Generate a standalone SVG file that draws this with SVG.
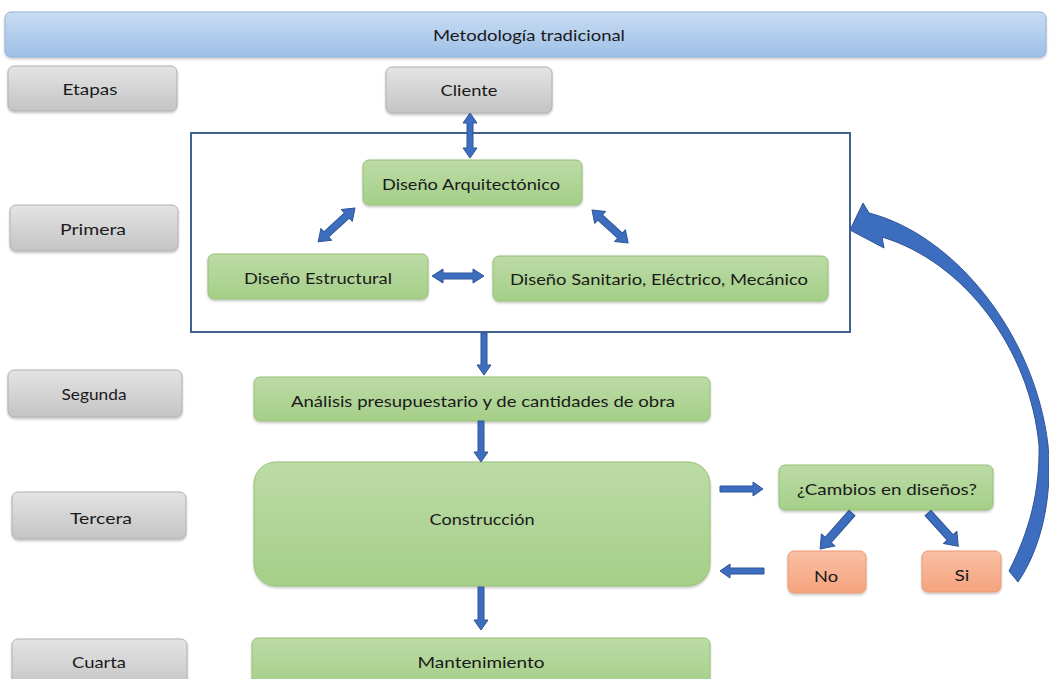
<svg xmlns="http://www.w3.org/2000/svg" width="1049" height="679" viewBox="0 0 1049 679">
<defs>
<linearGradient id="gBlue" x1="0" y1="0" x2="0" y2="1"><stop offset="0" stop-color="#c9dcf2"/><stop offset="1" stop-color="#9ec0e6"/></linearGradient>
<linearGradient id="gGray" x1="0" y1="0" x2="0" y2="1"><stop offset="0" stop-color="#e4e4e4"/><stop offset="1" stop-color="#c4c4c4"/></linearGradient>
<linearGradient id="gGreen" x1="0" y1="0" x2="0" y2="1"><stop offset="0" stop-color="#bcdba6"/><stop offset="1" stop-color="#a5cf88"/></linearGradient>
<linearGradient id="gSalmon" x1="0" y1="0" x2="0" y2="1"><stop offset="0" stop-color="#f9c0a3"/><stop offset="1" stop-color="#f5a37e"/></linearGradient>
<filter id="sh" x="-5%" y="-10%" width="110%" height="130%"><feDropShadow dx="0" dy="1.5" stdDeviation="1.2" flood-color="#000" flood-opacity="0.25"/></filter>
</defs>
<style>
text{font-family:"Lato","Open Sans","Liberation Sans",sans-serif;font-size:16px;fill:#1a1a1a;text-anchor:middle;dominant-baseline:central}
.blue{fill:url(#gBlue);stroke:#8fb2da;stroke-width:1;filter:url(#sh)}
.gray{fill:url(#gGray);stroke:#b0b0b0;stroke-width:1;filter:url(#sh)}
.green{fill:url(#gGreen);stroke:#94c174;stroke-width:1;filter:url(#sh)}
.salmon{fill:url(#gSalmon);stroke:#e99a74;stroke-width:1;filter:url(#sh)}
.arr{fill:#3d6dbf;stroke:#2f5597;stroke-width:1;stroke-linejoin:round}
</style>
<rect width="1049" height="679" fill="#ffffff"/>

<g id="title"><rect class="blue" x="5" y="12" width="1041" height="45" rx="6"/><text x="529" y="34" textLength="192" lengthAdjust="spacingAndGlyphs">Metodología tradicional</text></g>

<g id="etapas"><rect class="gray" x="8" y="66" width="169" height="45" rx="6"/><text x="90" y="88" textLength="55" lengthAdjust="spacingAndGlyphs">Etapas</text></g>
<g id="primera"><rect class="gray" x="10" y="205" width="168" height="46" rx="6"/><text x="93" y="228" textLength="66" lengthAdjust="spacingAndGlyphs">Primera</text></g>
<g id="segunda"><rect class="gray" x="8" y="370" width="174" height="47" rx="6"/><text x="94" y="393" textLength="65" lengthAdjust="spacingAndGlyphs">Segunda</text></g>
<g id="tercera"><rect class="gray" x="12" y="492" width="174" height="47" rx="6"/><text x="101" y="517" textLength="62" lengthAdjust="spacingAndGlyphs">Tercera</text></g>
<g id="cuarta"><rect class="gray" x="12" y="639" width="175" height="50" rx="6"/><text x="99" y="661" textLength="54" lengthAdjust="spacingAndGlyphs">Cuarta</text></g>

<g id="cliente"><rect class="gray" x="386" y="67" width="166" height="46" rx="6"/><text x="469" y="89" textLength="57" lengthAdjust="spacingAndGlyphs">Cliente</text></g>

<g id="primera-etapa"><rect x="191" y="133" width="659" height="199" fill="#ffffff" stroke="#41628f" stroke-width="2"/></g>

<g id="arquitectonico"><rect class="green" x="363" y="160" width="219" height="45" rx="6"/><text x="471" y="183" textLength="178" lengthAdjust="spacingAndGlyphs">Diseño Arquitectónico</text></g>
<g id="estructural"><rect class="green" x="208" y="254" width="220" height="45" rx="6"/><text x="318" y="277" textLength="148" lengthAdjust="spacingAndGlyphs">Diseño Estructural</text></g>
<g id="sanitario"><rect class="green" x="493" y="256" width="335" height="45" rx="6"/><text x="659" y="278" textLength="298" lengthAdjust="spacingAndGlyphs">Diseño Sanitario, Eléctrico, Mecánico</text></g>

<g id="analisis"><rect class="green" x="254" y="377" width="456" height="44" rx="6"/><text x="483" y="400" textLength="384" lengthAdjust="spacingAndGlyphs">Análisis presupuestario y de cantidades de obra</text></g>
<g id="construccion"><rect class="green" x="254" y="462" width="456" height="124" rx="22"/><text x="482" y="518" textLength="105" lengthAdjust="spacingAndGlyphs">Construcción</text></g>
<g id="cambios"><rect class="green" x="779" y="465" width="214" height="45" rx="6"/><text x="887" y="488" textLength="180" lengthAdjust="spacingAndGlyphs">¿Cambios en diseños?</text></g>
<g id="no"><rect class="salmon" x="788" y="551" width="78" height="42" rx="6"/><text x="826" y="575" textLength="24" lengthAdjust="spacingAndGlyphs">No</text></g>
<g id="si"><rect class="salmon" x="922" y="551" width="79" height="41" rx="6"/><text x="962" y="574" textLength="15" lengthAdjust="spacingAndGlyphs">Si</text></g>
<g id="mantenimiento"><rect class="green" x="252" y="638" width="458" height="50" rx="6"/><text x="481" y="661" textLength="127" lengthAdjust="spacingAndGlyphs">Mantenimiento</text></g>

<g id="connectors">
<path class="arr" transform="translate(470,113) rotate(90)" d="M0,0 L10,-7 V-3 H35 V-7 L45,0 L35,7 V3 H10 V7 Z"/>
<path class="arr" transform="translate(355,208) rotate(137.4)" d="M0,0 L11,-8 V-3.5 H39 V-8 L50,0 L39,8 V3.5 H11 V8 Z"/>
<path class="arr" transform="translate(592,210) rotate(42.5)" d="M0,0 L11,-8 V-3.5 H38 V-8 L49,0 L38,8 V3.5 H11 V8 Z"/>
<path class="arr" transform="translate(432,276)" d="M0,0 L11,-7 V-3 H41 V-7 L52,0 L41,7 V3 H11 V7 Z"/>
<path class="arr" transform="translate(484,333) rotate(90)" d="M0,-3 H32 V-7 L42,0 L32,7 V3 H0 Z"/>
<path class="arr" transform="translate(481,421) rotate(90)" d="M0,-3 H31 V-7 L41,0 L31,7 V3 H0 Z"/>
<path class="arr" transform="translate(481,587) rotate(90)" d="M0,-3 H33 V-7 L43,0 L33,7 V3 H0 Z"/>
<path class="arr" transform="translate(720,489)" d="M0,-3 H33 V-7 L43,0 L33,7 V3 H0 Z"/>
<path class="arr" transform="translate(764,571) rotate(180)" d="M0,-3 H34 V-7 L44,0 L34,7 V3 H0 Z"/>
<path class="arr" transform="translate(852,513) rotate(131.6)" d="M0,-4 H36 V-9 L48,0 L36,9 V4 H0 Z"/>
<path class="arr" transform="translate(928,513) rotate(47.7)" d="M0,-4 H33 V-9 L45,0 L33,9 V4 H0 Z"/>
<path class="arr" d="M850,230 L863,203 L869,213 C955,235 1035,335 1048,445 C1053,500 1040,550 1018,582 L1009,571 C1030,530 1040,490 1039,445 C1030,350 965,262 882,237 L884,248 Z"/>
</g>
</svg>
